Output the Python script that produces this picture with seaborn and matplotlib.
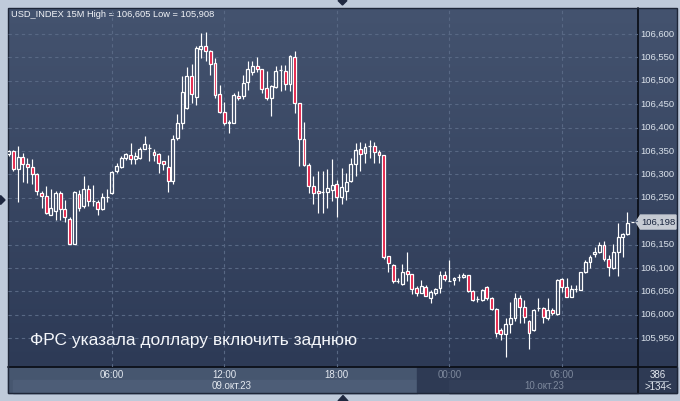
import numpy as np
import matplotlib
matplotlib.use("Agg")
import matplotlib.pyplot as plt
from matplotlib.colors import LinearSegmentedColormap
from matplotlib.patches import Rectangle, Polygon
import seaborn as sns

# 15-minute bars, 09.10.23 00:30 .. 10.10.23 09:45
opens = [106.343, 106.350, 106.311, 106.336, 106.323, 106.316, 106.300, 106.261, 106.253, 106.214,
         106.222, 106.259, 106.225, 106.204, 106.152, 106.257, 106.232, 106.268, 106.243, 106.240,
         106.225, 106.251, 106.259, 106.306, 106.315, 106.334, 106.341, 106.332, 106.334, 106.355,
         106.357, 106.348, 106.343, 106.328, 106.315, 106.286, 106.377, 106.410, 106.441, 106.511,
         106.466, 106.567, 106.575, 106.564, 106.537, 106.471, 106.434, 106.410, 106.410, 106.468,
         106.468, 106.498, 106.519, 106.532, 106.525, 106.484, 106.462, 106.486, 106.522, 106.521,
         106.494, 106.550, 106.452, 106.375, 106.320, 106.274, 106.264, 106.263, 106.263, 106.266,
         106.279, 106.252, 106.265, 106.286, 106.323, 106.353, 106.346, 106.360, 106.360, 106.347,
         106.341, 106.126, 106.106, 106.073, 106.066, 106.093, 106.086, 106.058, 106.047, 106.060,
         106.035, 106.046, 106.056, 106.085, 106.073, 106.074, 106.080, 106.080, 106.085, 106.051,
         106.033, 106.031, 106.059, 106.035, 106.012, 105.967, 105.958, 105.980, 105.992, 106.035,
         106.016, 105.987, 105.967, 106.015, 106.015, 105.994, 106.010, 106.002, 106.076, 106.060,
         106.038, 106.054, 106.053, 106.092, 106.113, 106.129, 106.135, 106.149, 106.120, 106.099,
         106.135, 106.165, 106.172, 106.198]
highs = [106.352, 106.352, 106.361, 106.345, 106.334, 106.333, 106.302, 106.265, 106.274, 106.268,
         106.264, 106.264, 106.246, 106.208, 106.265, 106.266, 106.296, 106.277, 106.277, 106.245,
         106.259, 106.268, 106.308, 106.325, 106.339, 106.346, 106.366, 106.348, 106.358, 106.382,
         106.365, 106.355, 106.345, 106.329, 106.341, 106.384, 106.428, 106.510, 106.529, 106.536,
         106.575, 106.601, 106.605, 106.566, 106.548, 106.491, 106.455, 106.416, 106.473, 106.477,
         106.512, 106.542, 106.543, 106.550, 106.526, 106.521, 106.491, 106.532, 106.533, 106.534,
         106.555, 106.564, 106.453, 106.412, 106.325, 106.297, 106.306, 106.308, 106.311, 106.333,
         106.288, 106.313, 106.302, 106.334, 106.366, 106.370, 106.366, 106.373, 106.368, 106.351,
         106.342, 106.126, 106.108, 106.078, 106.108, 106.133, 106.088, 106.061, 106.074, 106.063,
         106.053, 106.056, 106.094, 106.094, 106.117, 106.081, 106.086, 106.090, 106.085, 106.053,
         106.040, 106.054, 106.062, 106.037, 106.014, 105.972, 105.994, 106.028, 106.046, 106.042,
         106.032, 105.989, 106.012, 106.035, 106.017, 106.035, 106.014, 106.076, 106.079, 106.078,
         106.063, 106.063, 106.092, 106.116, 106.128, 106.145, 106.156, 106.158, 106.128, 106.151,
         106.195, 106.174, 106.220, 106.198]
lows = [106.340, 106.308, 106.241, 106.284, 106.281, 106.279, 106.256, 106.229, 106.215, 106.213,
        106.202, 106.202, 106.199, 106.151, 106.151, 106.222, 106.229, 106.232, 106.232, 106.214,
        106.224, 106.241, 106.258, 106.302, 106.313, 106.331, 106.323, 106.322, 106.332, 106.353,
        106.329, 106.329, 106.302, 106.309, 106.263, 106.279, 106.373, 106.396, 106.439, 106.452,
        106.448, 106.548, 106.543, 106.512, 106.462, 106.432, 106.405, 106.388, 106.409, 106.459,
        106.461, 106.480, 106.512, 106.519, 106.473, 106.459, 106.425, 106.484, 106.477, 106.480,
        106.477, 106.430, 106.318, 106.318, 106.259, 106.236, 106.218, 106.218, 106.229, 106.244,
        106.208, 106.237, 106.245, 106.284, 106.296, 106.306, 106.325, 106.334, 106.324, 106.324,
        106.120, 106.092, 106.068, 106.067, 106.063, 106.071, 106.044, 106.039, 106.046, 106.039,
        106.026, 106.043, 106.047, 106.073, 106.071, 106.063, 106.071, 106.078, 106.049, 106.029,
        106.028, 106.030, 106.032, 106.009, 105.952, 105.945, 105.909, 105.960, 105.987, 105.982,
        105.982, 105.926, 105.966, 106.008, 105.982, 105.989, 105.999, 106.000, 106.049, 106.037,
        106.037, 106.049, 106.052, 106.090, 106.099, 106.123, 106.131, 106.115, 106.083, 106.098,
        106.083, 106.124, 106.170, 106.198]
closes = [106.350, 106.311, 106.336, 106.321, 106.316, 106.300, 106.264, 106.253, 106.217, 106.227,
          106.259, 106.225, 106.208, 106.152, 106.263, 106.229, 106.269, 106.243, 106.244, 106.225,
          106.251, 106.252, 106.304, 106.318, 106.334, 106.343, 106.332, 106.340, 106.355, 106.364,
          106.357, 106.341, 106.325, 106.321, 106.286, 106.375, 106.409, 106.475, 106.511, 106.472,
          106.569, 106.575, 106.564, 106.535, 106.469, 106.434, 106.410, 106.411, 106.469, 106.462,
          106.496, 106.526, 106.531, 106.526, 106.482, 106.464, 106.489, 106.521, 106.522, 106.494,
          106.553, 106.452, 106.375, 106.320, 106.274, 106.261, 106.259, 106.262, 106.270, 106.277,
          106.251, 106.272, 106.284, 106.323, 106.352, 106.343, 106.358, 106.361, 106.347, 106.341,
          106.123, 106.110, 106.073, 106.073, 106.091, 106.086, 106.054, 106.047, 106.061, 106.041,
          106.048, 106.054, 106.085, 106.076, 106.073, 106.079, 106.080, 106.085, 106.051, 106.031,
          106.034, 106.053, 106.035, 106.012, 105.960, 105.958, 105.980, 105.992, 106.035, 106.016,
          105.995, 105.960, 106.010, 106.015, 105.996, 106.010, 106.003, 106.074, 106.059, 106.038,
          106.054, 106.054, 106.091, 106.113, 106.124, 106.135, 106.149, 106.118, 106.101, 106.135,
          106.165, 106.172, 106.197, 106.198]

time_ticks = [22, 46, 70, 94, 118]
time_labels = ["06:00", "12:00", "18:00", "00:00", "06:00"]
price_ticks = [105.95, 106.00, 106.05, 106.10, 106.15, 106.20, 106.25, 106.30,
               106.35, 106.40, 106.45, 106.50, 106.55, 106.60]
title = "USD_INDEX 15M High = 106,605 Low = 105,908"
caption = "ФРС указала доллару включить заднюю"
last_price = 106.198

sns.set_theme(style="dark")
plt.rcParams["font.family"] = ["Liberation Sans", "DejaVu Sans"]

fig = plt.figure(figsize=(6.8, 4.01), dpi=100)
fig.patch.set_facecolor("#BFCADA")

# pixel-space layer for panels / decorations
frame = fig.add_axes([0, 0, 1, 1], zorder=0)
frame.set_xlim(0, 680)
frame.set_ylim(401, 0)
frame.axis("off")

L, R, T, B, B2 = 8.3, 637.5, 8.3, 366.7, 393.0
RR = 677.0
grad = LinearSegmentedColormap.from_list("bg", ["#44536F", "#2D3A56"])
frame.imshow(np.linspace(0, 1, 256).reshape(-1, 1), cmap=grad, aspect="auto",
             extent=(L, RR, B, T), origin="upper", zorder=0)
# time axis strip
frame.add_patch(Rectangle((L, B), 417 - L, B2 - B, color="#46566F", zorder=1))
frame.add_patch(Rectangle((13, 380), 417 - 13, B2 - 380, color="#4D5D77", zorder=1))
frame.add_patch(Rectangle((417, B), R - 417, B2 - B, color="#2E3A54", zorder=1))
frame.add_patch(Rectangle((449, 380), R - 449, B2 - 380, color="#323E58", zorder=1))
frame.add_patch(Rectangle((R, B), RR - R, B2 - B, color="#2E3A54", zorder=1))
# separators
frame.plot([R, R], [T, B2], color="#0B0F18", lw=1.3, zorder=3)
frame.plot([L, RR], [B, B], color="#0B0F18", lw=1.3, zorder=3)
frame.add_patch(Rectangle((L, T), RR - L, B2 - T, fill=False, ec="#1E2638", lw=1.0, zorder=3))
frame.plot([648, 668], [381, 381], color="#9AA6B8", lw=0.7, zorder=3)
# small navigation triangles
for pts in ([(338, 0.5), (347, 0.5), (342.5, 5)], [(338, 401), (348, 401), (343, 395.5)],
            [(0.5, 195.5), (0.5, 204.5), (5, 200)]):
    frame.add_patch(Polygon(pts, closed=True, color="#1F2840", zorder=3))

# main candle axes
ax = fig.add_axes([L / 680, 1 - B / 401, (R - L) / 680, (B - T) / 401], zorder=1)
ax.set_facecolor("none")
x = np.arange(len(opens))
ax.set_xlim(-0.085, 134.14)
ax.set_ylim(105.8889, 106.6547)
for s in ax.spines.values():
    s.set_visible(False)
ax.set_xticks([])
ax.set_yticks([])

grid_kw = dict(color="#586884", lw=0.8, ls=(0, (3, 3)), zorder=1)
for p in price_ticks:
    ax.axhline(p, **grid_kw)
for t in time_ticks:
    ax.axvline(t, **grid_kw)

o = np.array(opens); c = np.array(closes); h = np.array(highs); lo = np.array(lows)
top = np.maximum(o, c); bot = np.minimum(o, c)
up = c >= o
ax.vlines(x, top, h, color="white", lw=0.85, zorder=2)
ax.vlines(x, lo, bot, color="white", lw=0.85, zorder=2)
ax.bar(x[up], (top - bot)[up], bottom=bot[up], width=0.62, facecolor="none",
       edgecolor="white", linewidth=0.9, zorder=3)
ax.bar(x[~up], (top - bot)[~up], bottom=bot[~up], width=0.62, facecolor="#E3143D",
       edgecolor="white", linewidth=0.9, zorder=3)

# price scale
ytr = frame.transData.inverted()
for p in price_ticks:
    yp = ax.transData.transform((0, p))[1]
    ypix = ytr.transform((0, yp))[1]
    frame.text(640.5, ypix, f"{p:.3f}".replace(".", ","), color="#DCE3EC",
               fontsize=6.8, va="center", ha="left", zorder=4)

# last price tag
yp = ytr.transform((0, ax.transData.transform((0, last_price))[1]))[1]
frame.add_patch(Polygon([(636, yp), (640.5, yp - 7), (676, yp - 7), (676, yp + 7), (640.5, yp + 7)],
                        closed=True, color="#C6CBD3", zorder=4))
frame.text(641.5, yp, f"{last_price:.3f}".replace(".", ","), color="#17233C",
           fontsize=6.8, va="center", ha="left", zorder=5)

# time scale
for t, lab in zip(time_ticks, time_labels):
    xp = ytr.transform((ax.transData.transform((t, 0))[0], 0))[0]
    col = "#E3E8EF" if t < 90 else "#7D889C"
    frame.text(xp, 374.5, lab, color=col, fontsize=7, ha="center", va="center", zorder=4)
frame.text(232, 386, "09.окт.23", color="#E3E8EF", fontsize=7, ha="center", va="center", zorder=4)
frame.text(544, 386, "10.окт.23", color="#7D889C", fontsize=7, ha="center", va="center", zorder=4)
frame.text(658, 374.5, "386", color="#E3E8EF", fontsize=7, ha="center", va="center", zorder=4)
frame.text(658, 386.5, ">134<", color="#E3E8EF", fontsize=7, ha="center", va="center", zorder=4)

frame.text(11, 14.5, title, color="#F2F4F8", fontsize=6.7, ha="left", va="center", zorder=4)
fig.text(30 / 680, 1 - 340 / 401, caption, color="#F4F6FA", fontsize=12.5,
         ha="left", va="center", zorder=5)

fig.savefig("out.png", dpi=100, facecolor=fig.get_facecolor())
